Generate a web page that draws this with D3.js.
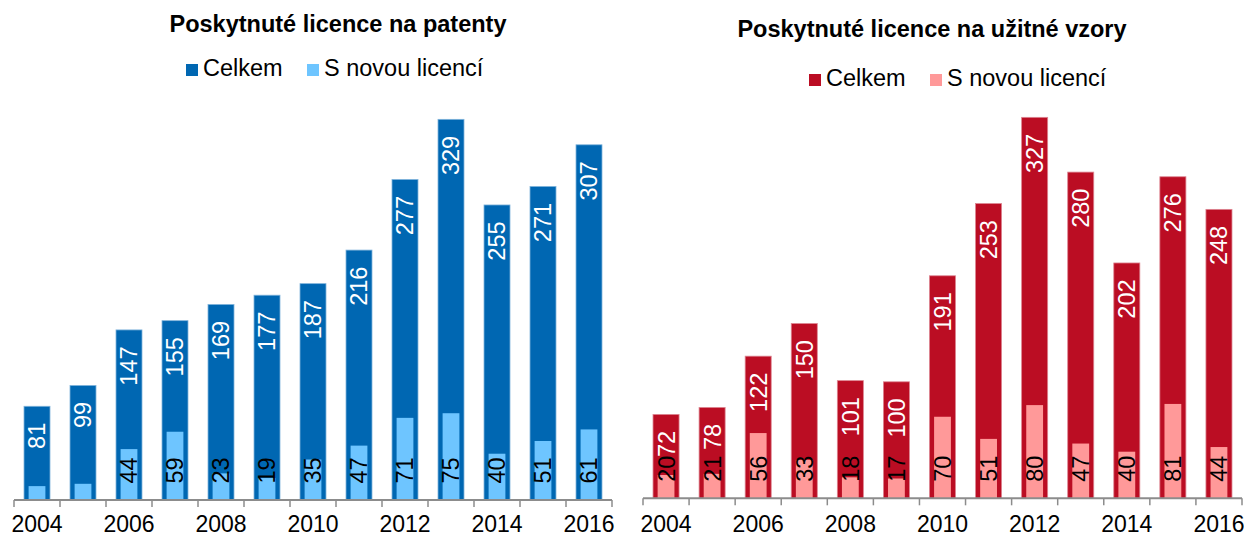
<!DOCTYPE html>
<html>
<head>
<meta charset="utf-8">
<script src="https://cdn.jsdelivr.net/npm/d3@7"></script>
<style>
  body { margin: 0; background: #fff; }
  svg { display: block; font-family: "Liberation Sans", Arial, sans-serif; }
</style>
</head>
<body>
<div id="chart"></div>
<script>
// categories
var years = ["2004", "2005", "2006", "2007", "2008", "2009", "2010", "2011", "2012", "2013", "2014", "2015", "2016"];
var yearLabels = ["2004", "2006", "2008", "2010", "2012", "2014", "2016"];

// patents
var patentTotal = [81, 99, 147, 155, 169, 177, 187, 216, 277, 329, 255, 271, 307];
var patentNew = [12, 14, 44, 59, 23, 19, 35, 47, 71, 75, 40, 51, 61];
var patentNewHidden = ["2004", "2005"]; // no label in the original

// utility models
var utilityTotal = [72, 78, 122, 150, 101, 100, 191, 253, 327, 280, 202, 276, 248];
var utilityNew = [20, 21, 56, 33, 18, 17, 70, 51, 80, 47, 40, 81, 44];

var legendNames = ["Celkem", "S novou licencí"];

var svg = d3.select("#chart").append("svg")
    .attr("width", 1244)
    .attr("height", 538);

function panel(opt) {
    var g = svg.append("g");

    var x = d3.scaleBand()
        .domain(years)
        .range([opt.left, opt.right])
        .paddingInner(0.435)
        .paddingOuter(0.2175);

    var y = d3.scaleLinear()
        .domain([0, 350])
        .range([opt.base, opt.base - 350 * opt.pxPerUnit]);

    var step = x.step();
    var innerW = step * 0.365;

    // title
    g.append("text")
        .attr("x", opt.titleX)
        .attr("y", opt.titleY)
        .attr("text-anchor", "middle")
        .style("font-weight", "bold")
        .style("font-size", "23.5px")
        .text(opt.title);

    // legend
    var lg = g.append("g").attr("transform", "translate(" + opt.legendX + "," + opt.legendY + ")");
    var offsets = [0, 121];
    legendNames.forEach(function (name, i) {
        lg.append("rect")
            .attr("x", offsets[i])
            .attr("y", -12)
            .attr("width", 12)
            .attr("height", 12)
            .attr("fill", opt.colors[i]);
        lg.append("text")
            .attr("x", offsets[i] + 17)
            .attr("y", 0)
            .style("font-size", "23.5px")
            .text(name);
    });

    var rows = years.map(function (yr, i) {
        return { year: yr, total: opt.total[i], fresh: opt.fresh[i] };
    });

    // total bars
    g.selectAll(".bar-total")
        .data(rows)
        .enter()
        .append("rect")
        .attr("class", "bar-total")
        .attr("x", function (d) { return x(d.year); })
        .attr("y", function (d) { return y(d.total); })
        .attr("width", x.bandwidth())
        .attr("height", function (d) { return y(0) - y(d.total); })
        .attr("fill", opt.colors[0])
        .attr("stroke", opt.edge)
        .attr("stroke-width", 0.8);

    // new-licence bars
    g.selectAll(".bar-new")
        .data(rows)
        .enter()
        .append("rect")
        .attr("class", "bar-new")
        .attr("x", function (d) { return x(d.year) + x.bandwidth() / 2 - innerW / 2; })
        .attr("y", function (d) { return y(d.fresh); })
        .attr("width", innerW)
        .attr("height", function (d) { return y(0) - y(d.fresh); })
        .attr("fill", opt.colors[1]);

    // total labels (white, inside end)
    g.selectAll(".lbl-total")
        .data(rows)
        .enter()
        .append("text")
        .attr("class", "lbl-total")
        .attr("transform", function (d) {
            return "translate(" + (x(d.year) + x.bandwidth() / 2) + "," + (y(d.total) + 16.5) + ") rotate(-90)";
        })
        .attr("dy", "0.36em")
        .attr("text-anchor", "end")
        .attr("fill", "#fff")
        .style("font-size", "23.5px")
        .text(function (d) { return d.total; });

    // new labels (black, inside base)
    g.selectAll(".lbl-new")
        .data(rows.filter(function (d) { return opt.hidden.indexOf(d.year) < 0; }))
        .enter()
        .append("text")
        .attr("class", "lbl-new")
        .attr("transform", function (d) {
            return "translate(" + (x(d.year) + x.bandwidth() / 2) + "," + (y(0) - 16.5) + ") rotate(-90)";
        })
        .attr("dy", "0.36em")
        .attr("text-anchor", "start")
        .attr("fill", "#000")
        .style("font-size", "23.5px")
        .text(function (d) { return d.fresh; });

    // x axis: labels every other year
    var axis = d3.axisBottom(x)
        .tickSize(0)
        .tickSizeOuter(0)
        .tickFormat(function (d) { return yearLabels.indexOf(d) >= 0 ? d : ""; });

    var ax = g.append("g")
        .attr("transform", "translate(0," + y(0) + ")")
        .call(axis);
    ax.select(".domain").remove();
    ax.selectAll("text")
        .attr("y", opt.yearY - opt.base)
        .attr("dy", 0)
        .attr("fill", "#000")
        .style("font-size", "23px")
        .style("font-family", "'Liberation Sans', Arial, sans-serif");

    // separators between categories
    var edges = years.map(function (yr) { return x(yr) - step * x.paddingInner() / 2; });
    edges.push(opt.right);
    ax.selectAll(".sep")
        .data(edges)
        .enter()
        .append("line")
        .attr("class", "sep")
        .attr("x1", function (d) { return d; })
        .attr("x2", function (d) { return d; })
        .attr("y1", 0)
        .attr("y2", 7)
        .attr("stroke", "#8c8c8c")
        .attr("stroke-width", 1.5);

    ax.append("line")
        .attr("x1", opt.left)
        .attr("x2", opt.right)
        .attr("y1", 0)
        .attr("y2", 0)
        .attr("stroke", "#8c8c8c")
        .attr("stroke-width", 2);
}

panel({
    title: "Poskytnuté licence na patenty",
    titleX: 338, titleY: 32,
    legendX: 186, legendY: 76,
    left: 14, right: 612, base: 500, pxPerUnit: 1.157, yearY: 532,
    total: patentTotal, fresh: patentNew, hidden: patentNewHidden,
    colors: ["#0067b2", "#6ec5ff"],
    edge: "#7fb3db"
});

panel({
    title: "Poskytnuté licence na užitné vzory",
    titleX: 932, titleY: 37,
    legendX: 809, legendY: 86,
    left: 643, right: 1242, base: 498.3, pxPerUnit: 1.165, yearY: 532,
    total: utilityTotal, fresh: utilityNew, hidden: [],
    colors: ["#bb0d23", "#ff9999"],
    edge: "#dd8591"
});
</script>
</body>
</html>
